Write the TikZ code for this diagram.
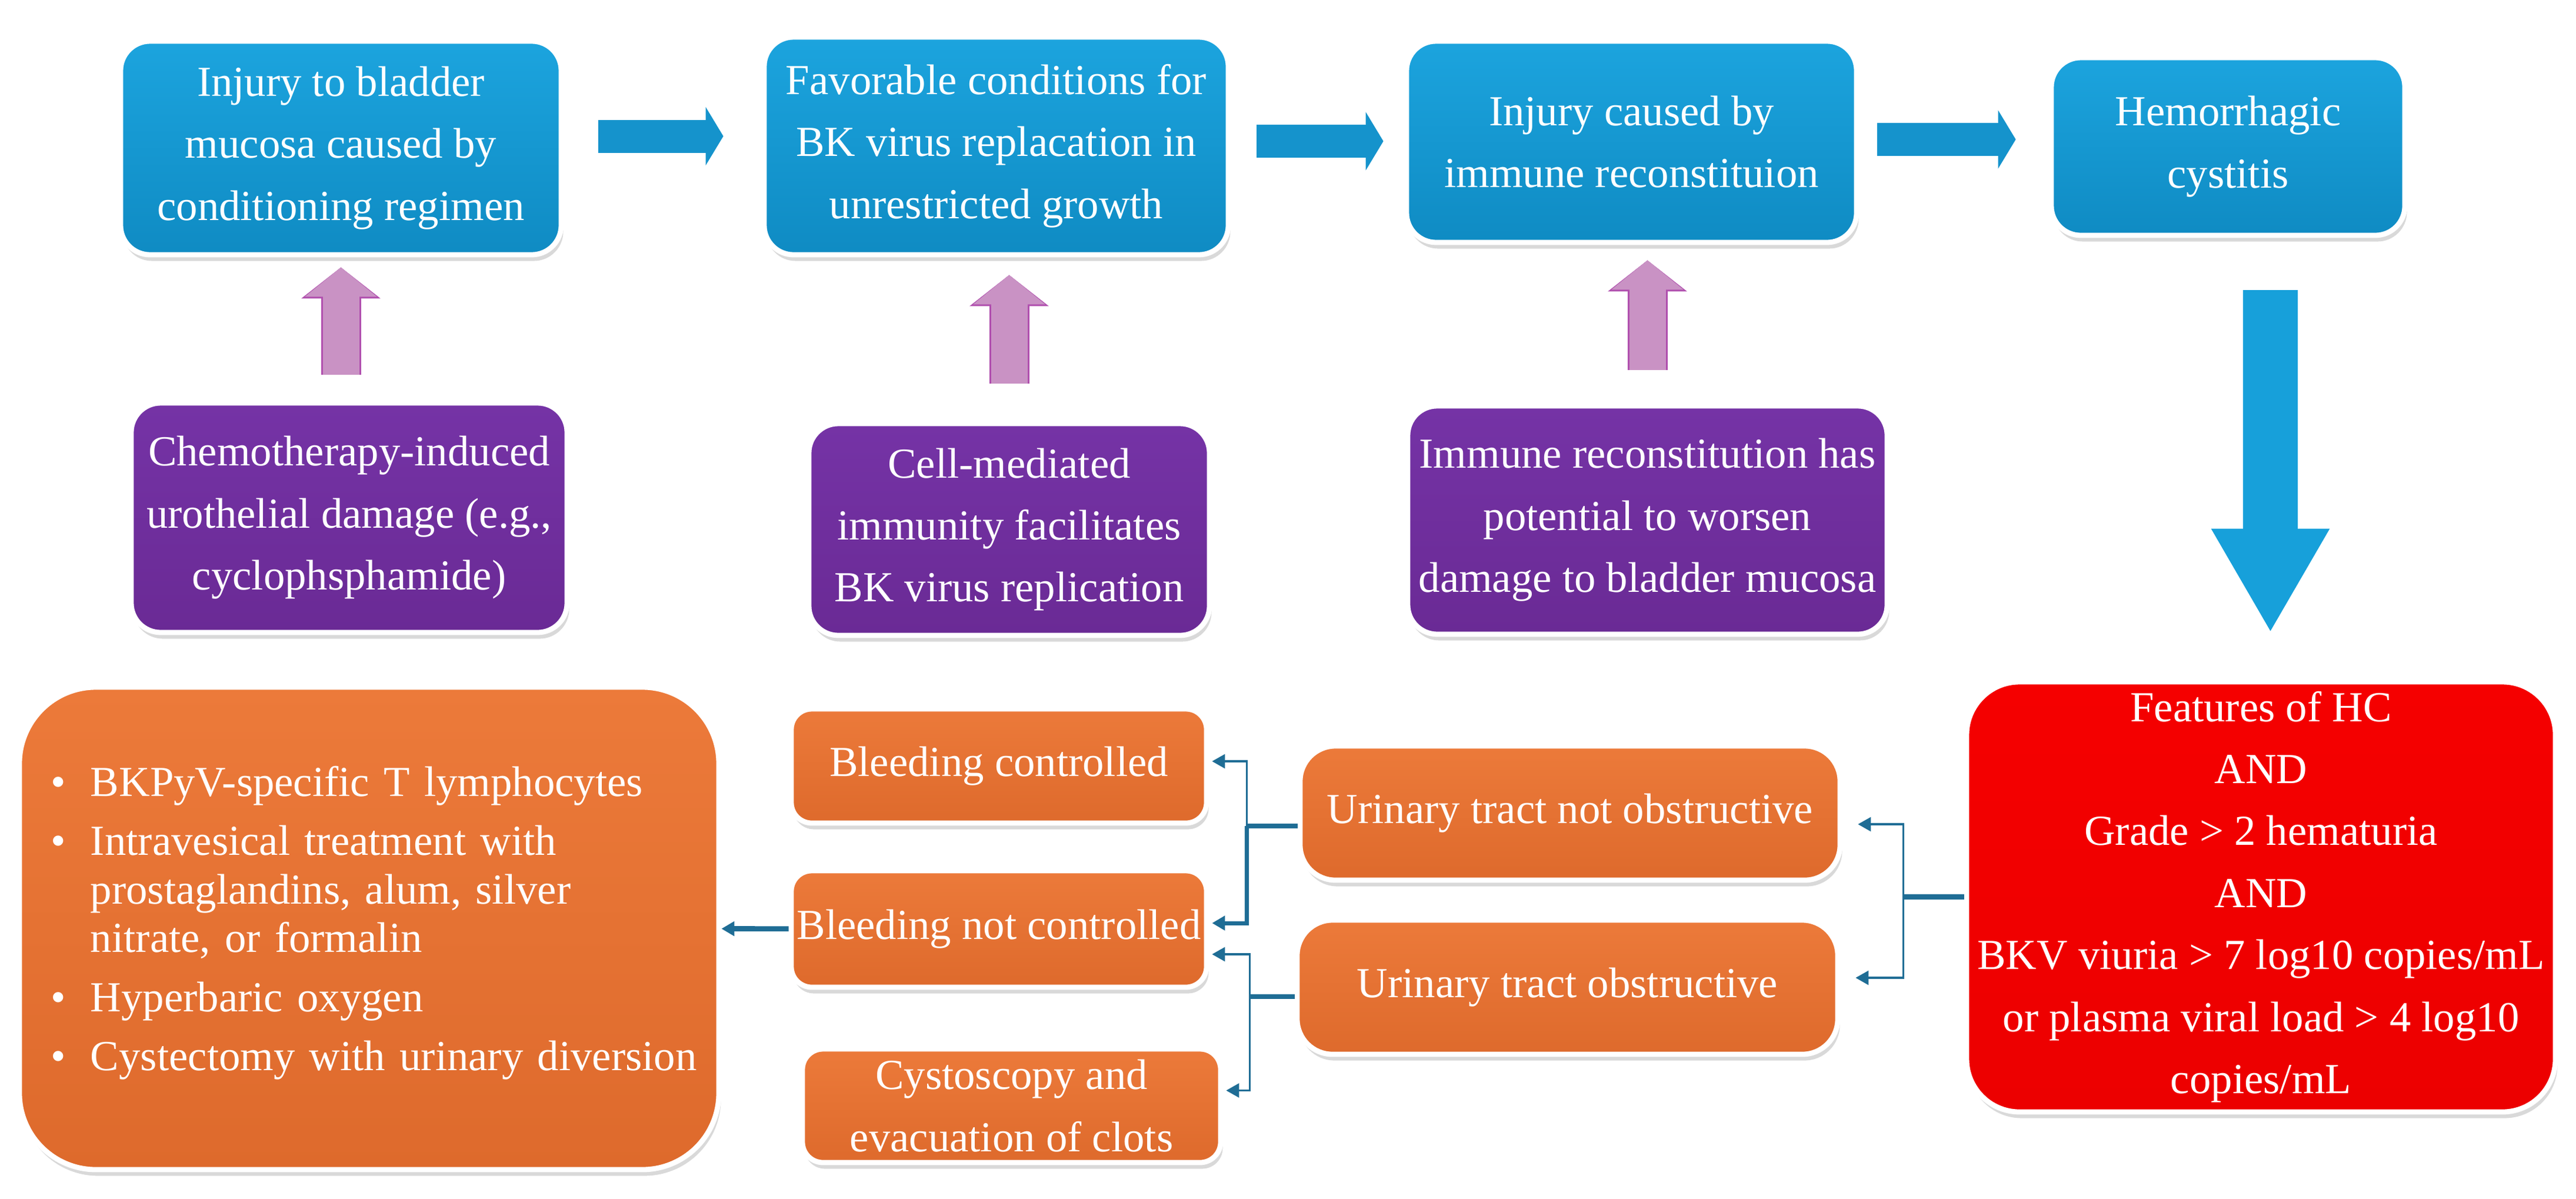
\documentclass[tikz,border=0pt]{standalone}
\usepackage{fontspec}
\setmainfont{Liberation Serif}
\usetikzlibrary{arrows.meta}
\usetikzlibrary{calc}
\usetikzlibrary{shadows}

\definecolor{bluetop}{HTML}{1CA4DE}
\definecolor{bluebot}{HTML}{0F8BC3}
\definecolor{purpletop}{HTML}{7533A6}
\definecolor{purplebot}{HTML}{6A2A95}
\definecolor{orangetop}{HTML}{EC7A3A}
\definecolor{orangebot}{HTML}{DE6A2C}
\definecolor{redtop}{HTML}{F50000}
\definecolor{redbot}{HTML}{EC0000}
\definecolor{bluearrow}{HTML}{1593CC}
\definecolor{downblue}{HTML}{17A0DA}
\definecolor{pinkfill}{HTML}{C992C4}
\definecolor{pinkedge}{HTML}{B04FAE}
\definecolor{linkblue}{HTML}{1F6D95}

\newcommand\boxfont{\fontsize{20.7}{30}\selectfont}
\newcommand\listfont{\fontsize{20.7}{23.5}\selectfont}

\tikzset{
box/.style={rounded corners=0.5cm, draw=white, line width=2.5pt, inner sep=1pt, text=white, align=center, font=\boxfont, drop shadow={opacity=0.3, shadow xshift=1pt, shadow yshift=-3pt}},
bluebox/.style={box, top color=bluetop, bottom color=bluebot},
purplebox/.style={box, top color=purpletop, bottom color=purplebot},
orangebox/.style={box, top color=orangetop, bottom color=orangebot},
redbox/.style={box, rounded corners=0.9cm, top color=redtop, bottom color=redbot},
fatarrow/.style={draw=bluearrow, line width=0.56cm, -{Triangle[width=0.98cm,length=0.3cm]}},
pinkarrow/.style={draw=pinkfill, line width=0.62cm, -{Triangle[width=1.2cm,length=0.5cm]}, preaction={draw=pinkedge, line width=0.68cm, -{Triangle[width=1.32cm,length=0.53cm]}}},
downarrow/.style={draw=downblue, line width=0.93cm, -{Triangle[width=1.88cm,length=1.77cm]}},
stub/.style={draw=linkblue, line width=2.5pt},
link/.style={draw=linkblue, line width=0.9pt, shorten >=0.05cm, -{Triangle[width=0.24cm,length=0.22cm]}}
}

\begin{document}
\begin{tikzpicture}
\useasboundingbox (0,0) rectangle (43.79,-20.37);

% top row
\node[bluebox, minimum width=7.49cm, minimum height=3.63cm] (B1) at (5.795,-2.515) {Injury to bladder\\mucosa caused by\\conditioning regimen};
\node[bluebox, minimum width=7.89cm, minimum height=3.70cm] (B2) at (16.935,-2.48) {Favorable conditions for\\BK virus replacation in\\unrestricted growth};
\node[bluebox, minimum width=7.65cm, minimum height=3.42cm] (B3) at (27.735,-2.41) {Injury caused by\\immune reconstituion};
\node[bluebox, minimum width=6.01cm, minimum height=3.02cm] (B4) at (37.875,-2.49) {Hemorrhagic\\cystitis};

\draw[fatarrow, shorten <=0.59cm, shorten >=0.65cm] ([yshift=2mm]B1.east) -- ([yshift=2mm]B1.east -| B2.west);
\draw[fatarrow, shorten <=0.44cm, shorten >=0.35cm] ([yshift=0.8mm]B2.east) -- ([yshift=0.8mm]B2.east -| B3.west);
\draw[fatarrow, shorten <=0.31cm, shorten >=0.56cm] ([yshift=0.4mm]B3.east) -- ([yshift=0.4mm]B3.east -| B4.west);

% causes
\node[purplebox, minimum width=7.41cm, minimum height=3.90cm] (P1) at (5.935,-8.80) {Chemotherapy-induced\\urothelial damage (e.g.,\\cyclophsphamide)};
\node[purplebox, minimum width=6.81cm, minimum height=3.60cm] (P2) at (17.155,-9.00) {Cell-mediated\\immunity facilitates\\BK virus replication};
\node[purplebox, minimum width=8.15cm, minimum height=3.88cm] (P3) at (28.005,-8.84) {Immune reconstitution has\\potential to worsen\\damage to bladder mucosa};

\draw[pinkarrow, shorten <=0.44cm, shorten >=0.17cm] (B1.south |- P1.north) -- (B1.south);
\draw[pinkarrow, shorten <=0.64cm, shorten >=0.30cm] (P2.north) -- (P2.north |- B2.south);
\draw[pinkarrow, shorten <=0.57cm, shorten >=0.26cm] (P3.north) -- (P3.north |- B3.south);

% bottom row
\node[redbox, minimum width=10.01cm, minimum height=7.31cm] (HC) at (38.435,-15.245) {Features of HC\\AND\\Grade > 2 hematuria\\AND\\BKV viuria > 7 log10 copies/mL\\or plasma viral load > 4 log10\\copies/mL};
\draw[downarrow, shorten <=0.89cm, shorten >=0.79cm] ([xshift=1.6mm]HC.north |- B4.south) -- ([xshift=1.6mm]HC.north);

\node[orangebox, rounded corners=0.6cm, minimum width=9.18cm, minimum height=2.28cm] (O1) at (26.69,-13.82) {Urinary tract not obstructive};
\node[orangebox, rounded corners=0.6cm, minimum width=9.19cm, minimum height=2.28cm] (O2) at (26.645,-16.78) {Urinary tract obstructive};

\node[orangebox, rounded corners=0.35cm, minimum width=7.06cm, minimum height=1.94cm] (BC) at (16.98,-13.02) {Bleeding controlled};
\node[orangebox, rounded corners=0.35cm, minimum width=7.06cm, minimum height=1.98cm] (BNC) at (16.98,-15.79) {Bleeding not controlled};
\node[orangebox, rounded corners=0.35cm, minimum width=7.11cm, minimum height=1.93cm] (CY) at (17.195,-18.795) {Cystoscopy and\\evacuation of clots};

\node[orangebox, rounded corners=1.3cm, minimum height=8.2cm, text width=11.29cm, inner xsep=0.3cm, align=left, font=\listfont] (T) at (6.275,-15.78) {%
\begin{list}{\textbullet}{\setlength\leftmargin{0.91cm}\setlength\labelwidth{0.49cm}\setlength\labelsep{0.42cm}\setlength\itemsep{5pt}\setlength\topsep{0pt}\setlength\parsep{0pt}\setlength\partopsep{0pt}}
\item BKPyV-specific T lymphocytes
\item Intravesical treatment with\newline prostaglandins, alum, silver\newline nitrate, or formalin
\item Hyperbaric oxygen
\item Cystectomy with urinary diversion
\end{list}\vspace*{0.5cm}};

% connectors
\draw[stub] (HC.west) -- ++(-1.03,0) coordinate (j1);
\draw[link, shorten >=0.26cm] (j1) |- ([yshift=-1.9mm]O1.east);
\draw[link, shorten >=0.26cm] (j1) |- ([yshift=1.6mm]O2.east);

\draw[stub] ([yshift=-2.2mm]O1.west) -- ++(-0.86,0) coordinate (j2);
\draw[link] (j2) |- ([yshift=0.8mm]BC.east);
\draw[link, line width=2pt] (j2) |- ([yshift=1mm]BNC.east);
\draw[stub] ([yshift=-1.6mm]O2.west) -- ++(-0.76,0) coordinate (j3);
\draw[link] (j3) |- ([yshift=-4.3mm]BNC.east);
\draw[link] (j3) |- ([yshift=2.6mm]CY.east);

\draw[link, line width=2.5pt, shorten >=0pt] (BNC) -- (T);
\end{tikzpicture}
\end{document}
